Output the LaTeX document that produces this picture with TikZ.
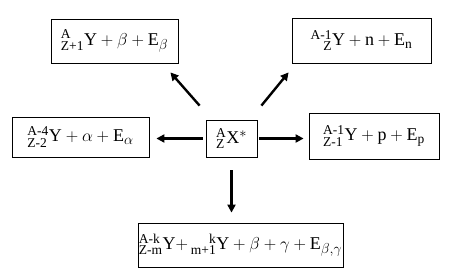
\documentclass[tikz,border=0pt]{standalone}
\usepackage{amsmath}
\usepackage{mathtools}
\usepackage{fontspec}
\setmainfont{Liberation Serif}
\usetikzlibrary{arrows.meta}
\DeclareMathSizes{18}{18}{13.5}{10}
\newcommand{\tx}[1]{\text{#1}}
\newcommand{\lpre}[3]{{}^{\tx{#1}}_{\tx{#2}}\tx{#3}}
\newcommand{\rpre}[3]{\prescript{\tx{#1}}{\tx{#2}}{\tx{#3}}}
\begin{document}
\begin{tikzpicture}[x=1pt,y=-1pt,
  box/.style={draw,line width=0.8pt,inner sep=0pt,align=center,font=\fontsize{18}{21}\selectfont},
  arr/.style={line width=2.4pt,-{Triangle[length=8pt,width=8pt]}}]
\useasboundingbox (0,0) rectangle (452,276);
\node[box,minimum width=127pt,minimum height=44pt] (TL) at (114.5,41) {$\lpre{A}{Z+1}{Y} + \beta + \tx{E}_\beta$};
\node[box,minimum width=139pt,minimum height=45pt] (TR) at (361.5,40.5) {$\rpre{A-1}{Z}{Y} + \tx{n} + \tx{E}_{\tx{n}}$};
\node[box,minimum width=137pt,minimum height=40pt] (L) at (80.5,137) {$\lpre{A-4}{Z-2}{Y} + \alpha + \tx{E}_\alpha$};
\node[box,minimum width=51pt,minimum height=37pt] (C) at (231.5,138.5) {$\lpre{A}{Z}{X}^{*}$};
\node[box,minimum width=130pt,minimum height=46pt] (R) at (374,136) {$\lpre{A-1}{Z-1}{Y} + \tx{p} + \tx{E}_{\tx{p}}$};
\node[box,minimum width=205pt,minimum height=44pt] (B) at (240.5,245) {$\lpre{A-k}{Z-m}{Y}{+}\rpre{k}{m+1}{Y} + \beta + \gamma + \tx{E}_{\beta,\gamma}$};
\draw[arr] ([shift={(-6,-14)}]C.north west) -- ([shift={(-8,9)}]TL.south east);
\draw[arr] ([shift={(4,-14)}]C.north east) -- ([shift={(-3,9)}]TR.south west);
\draw[arr] ([xshift=-3pt]C.west) -- ([xshift=7pt]L.east |- C.west);
\draw[arr] ([xshift=2pt]C.east) -- ([xshift=-5pt]R.west |- C.east);
\draw[arr] ([yshift=-13pt]C.south) -- ([yshift=10pt]C.south |- B.north);
\end{tikzpicture}
\end{document}
